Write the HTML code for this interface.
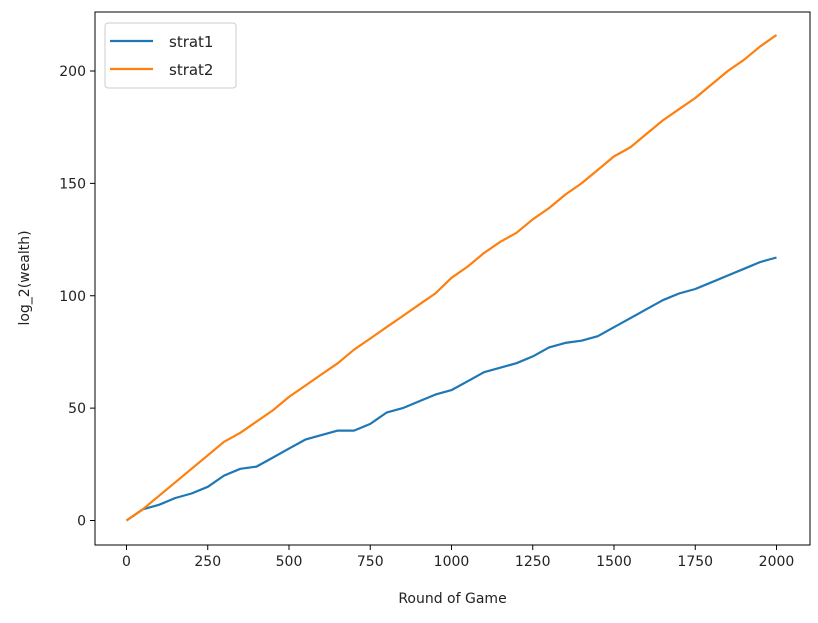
<!DOCTYPE html>
<html><head><meta charset="utf-8"><style>
html,body{margin:0;padding:0;background:#fff;}
svg text{font-family:"DejaVu Sans","Liberation Sans",sans-serif;fill:#222;}
</style></head><body>
<svg id="chart" width="818" height="618" xmlns="http://www.w3.org/2000/svg"></svg>
<script>
const rounds=[0,50,100,150,200,250,300,350,400,450,500,550,600,650,700,750,800,850,900,950,1000,1050,1100,1150,1200,1250,1300,1350,1400,1450,1500,1550,1600,1650,1700,1750,1800,1850,1900,1950,2000];
const strat1=[0,5,7,10,12,15,20,23,24,28,32,36,38,40,40,43,48,50,53,56,58,62,66,68,70,73,77,79,80,82,86,90,94,98,101,103,106,109,112,115,117];
const strat2=[0,5,11,17,23,29,35,39,44,49,55,60,65,70,76,81,86,91,96,101,108,113,119,124,128,134,139,145,150,156,162,166,172,178,183,188,194,200,205,211,216];
const xTicks=[0,250,500,750,1000,1250,1500,1750,2000];
const yTicks=[0,50,100,150,200];
const NS="http://www.w3.org/2000/svg";
const svg=document.getElementById('chart');
const L=95,R=810,T=12,B=545;
const xs=v=>126.5+v*(81.25/250);
const ys=v=>520.5-v*(449.5/200);
function mk(tag,attrs,parent){const e=document.createElementNS(NS,tag);for(const k in attrs)e.setAttribute(k,attrs[k]);(parent||svg).appendChild(e);return e;}
const frame=mk('rect',{x:L,y:T,width:R-L,height:B-T,fill:'none',stroke:'#000','stroke-width':1});


xTicks.forEach(t=>{
  const g=mk('g',{});
  
  
  mk('line',{x1:xs(t),x2:xs(t),y1:B,y2:B+5,stroke:'#000'},g);
  const tx=mk('text',{x:xs(t),y:B+21,'text-anchor':'middle','font-size':14},g);tx.textContent=t;
});
yTicks.forEach(t=>{
  const g=mk('g',{});
  
  
  mk('line',{x1:L-5,x2:L,y1:ys(t),y2:ys(t),stroke:'#000'},g);
  const tx=mk('text',{x:L-9,y:ys(t)+5,'text-anchor':'end','font-size':14},g);tx.textContent=t;
});
const xl=mk('text',{x:(L+R)/2,y:603,'text-anchor':'middle','font-size':14});xl.textContent='Round of Game';


const yl=mk('text',{x:0,y:0,'text-anchor':'middle','font-size':14,transform:'translate(29,278) rotate(-90)'});yl.textContent='log_2(wealth)';


function line(vals,color,name){
  const d=vals.map((v,i)=>(i?'L':'M')+xs(rounds[i]).toFixed(1)+','+ys(v).toFixed(1)).join(' ');
  const p=mk('path',{d:d,fill:'none',stroke:color,'stroke-width':2.2,'stroke-linejoin':'round'});
  
  
}
line(strat1,'#1f77b4','series-strat1');
line(strat2,'#ff7f0e','series-strat2');
const lg=mk('g',{});


mk('rect',{x:105,y:23,width:131,height:65,rx:3,fill:'#fff',stroke:'#ccc'},lg);
[['strat1','#1f77b4',41],['strat2','#ff7f0e',69]].forEach(([n,c,y])=>{
  const e=mk('g',{},lg);
  
  
  mk('line',{x1:110,x2:153,y1:y,y2:y,stroke:c,'stroke-width':2.2},e);
  const t=mk('text',{x:169,y:y+6,'font-size':15},e);t.textContent=n;
});
</script>
</body></html>
